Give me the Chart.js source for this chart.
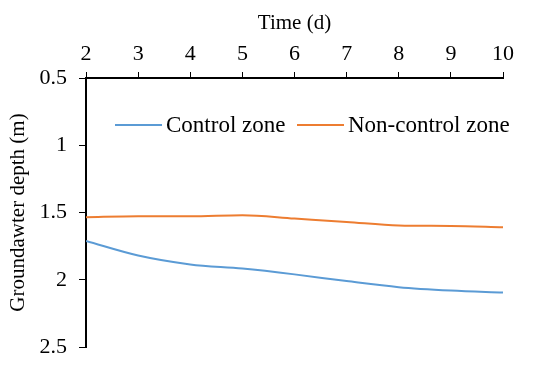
<!DOCTYPE html>
<html>
<head>
<meta charset="utf-8">
<script src="https://cdn.jsdelivr.net/npm/chart.js@4"></script>
<style>
  html, body { margin: 0; padding: 0; background: #fff; }
</style>
</head>
<body>
<canvas id="depthChart" width="550" height="369"></canvas>
<script>
// values
const days = [2, 3, 4, 5, 6, 7, 8, 9, 10];
const controlZone = [1.712, 1.82, 1.886, 1.917, 1.96, 2.01, 2.055, 2.08, 2.095];
const nonControlZone = [1.535, 1.528, 1.528, 1.52, 1.545, 1.57, 1.596, 1.60, 1.61];
const seriesNames = ['Control zone', 'Non-control zone'];
const seriesColors = ['#5B9BD5', '#ED7D31'];

const serif = "'Liberation Serif', 'Times New Roman', serif";

// legend sits inside the plot, drawn by hand
const innerLegend = {
    id: 'innerLegend',
    afterDraw(chart) {
        const ctx = chart.ctx;
        const startX = [115, 297];
        const y = 125;
        ctx.save();
        ctx.font = '23px ' + serif;
        ctx.textBaseline = 'middle';
        chart.data.datasets.forEach((ds, i) => {
            const x0 = startX[i];
            ctx.strokeStyle = ds.borderColor;
            ctx.lineWidth = 2;
            ctx.beginPath();
            ctx.moveTo(x0, y);
            ctx.lineTo(x0 + 47, y);
            ctx.stroke();
            ctx.fillStyle = '#000';
            ctx.fillText(ds.label, x0 + 51, y + 1);
        });
        ctx.restore();
    }
};

new Chart(document.getElementById('depthChart'), {
    type: 'line',
    data: {
        datasets: [
            {
                label: seriesNames[0],
                data: days.map((d, i) => ({ x: d, y: controlZone[i] })),
                borderColor: seriesColors[0],
                borderWidth: 2,
                pointRadius: 0,
                tension: 0.4,
                cubicInterpolationMode: 'monotone'
            },
            {
                label: seriesNames[1],
                data: days.map((d, i) => ({ x: d, y: nonControlZone[i] })),
                borderColor: seriesColors[1],
                borderWidth: 2,
                pointRadius: 0,
                tension: 0.4,
                cubicInterpolationMode: 'monotone'
            }
        ]
    },
    options: {
        responsive: false,
        animation: false,
        layout: { padding: { left: 6, top: 8, right: 47, bottom: 22 } },
        plugins: {
            legend: { display: false },
            tooltip: { enabled: false }
        },
        scales: {
            x: {
                type: 'linear',
                position: 'top',
                min: 2,
                max: 10,
                ticks: { stepSize: 1, autoSkip: false, maxRotation: 0, color: '#000', font: { family: serif, size: 22 }, padding: 5 },
                grid: { drawOnChartArea: false, color: '#000', tickLength: 6, tickColor: '#000' },
                border: { color: '#000', width: 2 },
                title: { display: true, text: 'Time (d)', color: '#000', font: { family: serif, size: 21 }, padding: { top: 3, bottom: 0 } },
                afterFit(s) { s.height = 70; }
            },
            y: {
                reverse: true,
                min: 0.5,
                max: 2.5,
                ticks: { stepSize: 0.5, autoSkip: false, color: '#000', font: { family: serif, size: 22, lineHeight: 0.9 }, padding: 12, callback: v => String(v) },
                grid: { drawOnChartArea: false, color: '#000', tickLength: 7, tickColor: '#000' },
                border: { color: '#000', width: 2 },
                title: { display: true, text: 'Groundawter depth (m)', color: '#000', font: { family: serif, size: 21 }, padding: { top: 0, bottom: 4 } },
                afterFit(s) { s.width = 80; }
            }
        }
    },
    plugins: [innerLegend]
});
</script>
</body>
</html>
